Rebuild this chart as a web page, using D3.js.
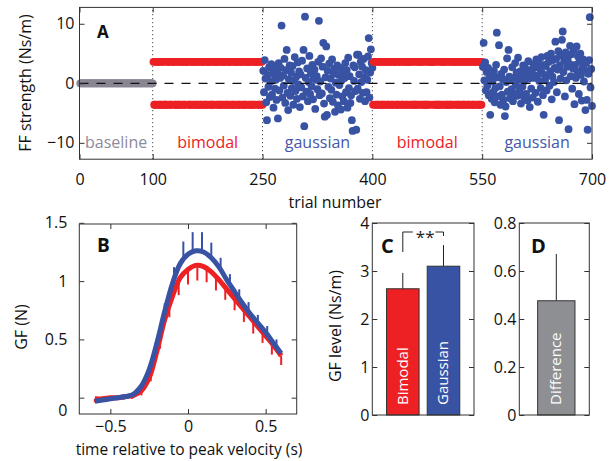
<!DOCTYPE html>
<html>
<head>
<meta charset="utf-8">
<script src="https://cdn.jsdelivr.net/npm/d3@7"></script>
<style>
  body { margin: 0; background: #fff; }
  text { font-family: "Open Sans", sans-serif; }
</style>
</head>
<body>
<svg id="fig" width="613" height="461"></svg>
<script>
// ---- panel A data ----
const phases = ["baseline", "bimodal", "gaussian", "bimodal", "gaussian"];
const phaseStarts = [0, 100, 250, 400, 550];
const phaseEnds = [100, 250, 400, 550, 700];
const trialTicks = [0, 100, 250, 400, 550, 700];
const ffTicks = [-10, 0, 10];
const baselineFF = 0;
const bimodalFF = 3.6;
const bimodalSigns1 = "+--+-++-+- -++-+---+- ++--+-+++- -+-+--+-++ -+--+++-+- -+-+-++--+ -+-+--++-+ --+-++-+-+ --+-+++--+ -+--++-+-+ --+-++-+-- +-+-++--+- ++-+--+-++ -+-+--+-+- ++-+--+-+-";
const bimodalSigns2 = "-++-+--+-+ +--+-+-++- -+-++--+-+ +-+--+-++- --++-+-+-+ +-+-+--+-- ++-+-++-+- -+--+-+-++ +-++-+--+- -+-+-++-+- +--+-+--++ -++-+-+--+ +-+--+-++- -+-++-+--+ +-+-+--+-+";
const gaussianFF1 = [
  2.1, -1.5, 3.9, 0.8, -3.2, -6.2, 1.4, -0.6, 2.7, -2.3,
  0.3, 3.2, -1.9, 1.6, -4.1, 2.4, -0.9, 0.6, -2.8, 1.9,
  -5.9, 3.4, -1.2, 0.9, 2.6, 9.7, -2.4, 1.3, -0.4, 4.1,
  -3.3, 2.2, 5.6, -1.6, -4.5, 0.7, 3.0, -2.1, 1.8, -0.8,
  2.9, -3.6, 0.4, 4.4, -1.3, 1.1, -2.6, 3.5, -0.2, 2.0,
  -4.0, 1.5, -0.7, 3.8, -2.2, 5.6, -7.2, 11.2, 0.9, -1.4,
  2.5, -3.0, 0.2, 4.6, -1.8, 1.7, -0.5, 3.1, -2.7, 0.8,
  2.3, -4.3, 0.6, 1.2, -1.0, 3.6, 10.5, -2.0, 0.3, 4.2,
  -1.7, 2.8, 6.8, -3.4, -5.6, 1.0, 6.2, -5.3, 2.1, -0.6,
  3.3, -2.5, 0.8, -1.1, 4.0, -3.1, 1.6, 2.4, -4.8, 0.1,
  -1.9, 3.0, -3.7, 1.4, -0.3, 2.6, -4.4, 0.5, -2.2, 1.9,
  -3.0, 0.9, 3.4, -1.5, 2.2, -4.1, 4.3, -0.8, 1.2, -3.3,
  -2.0, -6.2, -8.0, 3.0, 0.4, 2.7, -1.3, -7.8, 4.8, -0.9,
  4.8, 1.5, -2.6, 3.6, 0.2, 2.8, -1.6, 4.1, 1.0, -3.0,
  2.2, -1.5, 0.6, 4.5, 7.6, -2.4, 1.8, 5.7, 3.4, 2.6
];
const gaussianFF2 = [
  2.8, 6.8, 0.5, 3.5, -1.2, 1.9, -0.4, 2.6, -2.0, 0.9,
  -5.3, 1.4, -2.6, 0.3, -1.5, 2.1, -3.2, -0.8, 3.1, 8.5,
  1.0, -2.2, 6.4, -0.5, -3.6, 1.6, -1.9, 0.7, -2.8, 2.3,
  -5.5, -3.9, 0.2, 4.2, -1.4, 5.6, 1.1, -2.5, 0.5, -1.0,
  2.7, -3.0, 0.9, -1.7, 3.4, -0.3, 1.8, -2.1, 4.3, 0.6,
  -1.3, 2.0, -3.4, 1.2, -0.6, 3.0, -2.3, 0.4, 2.5, -1.8,
  1.5, -2.9, 3.7, 0.8, -4.0, 2.2, -0.9, 1.9, -2.4, 3.2,
  0.9, 2.7, -1.6, 4.0, 1.3, -3.1, 3.5, 0.4, 2.4, -0.8,
  4.4, 1.7, -2.0, -5.3, 3.1, 0.6, 2.9, -1.2, 4.6, 1.4,
  3.6, -0.4, 2.0, 5.0, -2.7, 1.1, 3.9, 0.2, 2.6, 7.0,
  4.1, -1.5, 2.3, 5.4, -6.2, 3.0, 0.8, 4.7, 7.3, 8.7,
  1.9, 3.8, -2.2, 5.2, 0.5, 2.8, 4.3, -7.7, 3.3, 6.3,
  1.2, 4.9, -0.9, 2.5, 5.6, -3.5, 3.1, 0.9, 6.2, 2.0,
  4.5, -1.8, 3.7, 5.0, 1.4, -2.9, 2.6, 4.0, 0.3, 2.2,
  -4.5, 3.4, -2.8, -7.8, 1.6, 3.9, 11.1, -0.7, 2.4, -3.8
];

// ---- panel B data ----
const timeB = [-0.6, -0.55, -0.5, -0.45, -0.4, -0.35, -0.3, -0.25, -0.2, -0.15, -0.1, -0.05,
  0, 0.05, 0.1, 0.15, 0.2, 0.25, 0.3, 0.35, 0.4, 0.45, 0.5, 0.55, 0.6];
const gfGaussian = [-0.03, -0.02, -0.01, 0.0, 0.01, 0.03, 0.10, 0.24, 0.47, 0.74, 0.98, 1.15,
  1.23, 1.26, 1.25, 1.20, 1.12, 1.01, 0.91, 0.81, 0.72, 0.64, 0.56, 0.47, 0.38];
const gfBimodal = [-0.01, -0.01, 0.0, 0.0, 0.01, 0.02, 0.06, 0.17, 0.40, 0.67, 0.87, 1.03,
  1.10, 1.135, 1.125, 1.08, 1.01, 0.93, 0.85, 0.77, 0.69, 0.61, 0.53, 0.45, 0.36];
const gaussBarTime = [-0.57, -0.51, -0.45, -0.39, -0.33, -0.27, -0.21, -0.15, -0.09, -0.03,
  0.03, 0.09, 0.15, 0.21, 0.27, 0.33, 0.39, 0.45, 0.51, 0.57];
const gaussBarMean = [-0.025, -0.015, 0.0, 0.012, 0.05, 0.17, 0.42, 0.74, 1.02, 1.19,
  1.25, 1.25, 1.20, 1.10, 0.97, 0.85, 0.74, 0.64, 0.545, 0.44];
const gaussBarErr = [0.02, 0.02, 0.02, 0.02, 0.03, 0.04, 0.05, 0.07, 0.10, 0.15,
  0.17, 0.17, 0.13, 0.10, 0.09, 0.08, 0.08, 0.07, 0.07, 0.06];
const bimBarTime = [-0.6, -0.54, -0.48, -0.42, -0.36, -0.3, -0.24, -0.18, -0.12, -0.06, 0,
  0.06, 0.12, 0.18, 0.24, 0.3, 0.36, 0.42, 0.48, 0.54, 0.6];
const bimBarMean = [-0.01, -0.01, 0.0, 0.005, 0.02, 0.06, 0.20, 0.50, 0.79, 1.00, 1.10,
  1.135, 1.11, 1.04, 0.95, 0.85, 0.75, 0.65, 0.56, 0.46, 0.36];
const bimBarErr = [0.03, 0.02, 0.02, 0.02, 0.03, 0.04, 0.06, 0.08, 0.10, 0.12, 0.13,
  0.13, 0.12, 0.12, 0.11, 0.10, 0.10, 0.10, 0.09, 0.09, 0.08];
const timeTicks = [-0.5, 0, 0.5];
const gfTicks = [0, 0.5, 1, 1.5];

// ---- panel C / D data ----
const conditions = ["Bimodal", "Gaussian"];
const gfLevel = [2.63, 3.10];
const gfLevelErr = [0.33, 0.44];
const levelTicks = [0, 1, 2, 3, 4];
const diffName = ["Difference"];
const diffLevel = [0.476];
const diffErr = [0.195];
const diffTicks = [0, 0.2, 0.4, 0.6, 0.8];

const RED = "#ed2024", BLUE = "#3953a4", GREY = "#8d8f92", BASEGREY = "#8b8593";

const svg = d3.select("#fig");
svg.append("rect").attr("width", 613).attr("height", 461).attr("fill", "#fff");

const fmt = d3.format("~g");

// draws box with inward ticks on all four sides, labels on left and bottom
function frame(x, y, xt, yt, opt) {
  const [x0, x1] = x.range(), [y0, y1] = y.range();
  const g = svg.append("g");
  if (xt) {
    g.append("g").attr("transform", `translate(0,${y0})`)
      .call(d3.axisBottom(x).tickValues(xt).tickSizeInner(-5).tickSizeOuter(0)
        .tickPadding(opt.xpad).tickFormat(fmt));
    g.append("g").attr("transform", `translate(0,${y1})`)
      .call(d3.axisTop(x).tickValues(xt).tickSizeInner(-5).tickSizeOuter(0).tickFormat(""));
  }
  const yAxis = g.append("g").attr("transform", `translate(${x0},0)`)
    .call(d3.axisLeft(y).tickValues(yt).tickSizeInner(-5).tickSizeOuter(0)
      .tickPadding(opt.ypad).tickFormat(fmt));
  g.append("g").attr("transform", `translate(${x1},0)`)
    .call(d3.axisRight(y).tickValues(yt).tickSizeInner(-5).tickSizeOuter(0).tickFormat(""));
  g.selectAll(".domain").remove();
  g.selectAll(".tick line").attr("stroke", "#333");
  g.selectAll(".tick text").attr("font-size", 16).attr("fill", "#111")
    .style("font-family", "'Open Sans', sans-serif");
  g.append("rect").attr("x", x0).attr("y", y1).attr("width", x1 - x0).attr("height", y0 - y1)
    .attr("fill", "none").attr("stroke", "#333").attr("stroke-width", 1);
  return yAxis;
}

function panelLetter(t, x, y, size) {
  svg.append("text").attr("x", x).attr("y", y).attr("font-size", size)
    .attr("font-weight", "bold").attr("fill", "#111").text(t);
}

// ================= Panel A =================
const xA = d3.scaleLinear().domain([0, 700]).range([79.5, 592]);
const yA = d3.scaleLinear().domain([-12.75, 12.75]).range([159.2, 7.4]);

const gA = svg.append("g");
gA.selectAll("line.phase").data(phaseStarts.slice(1)).enter().append("line")
  .attr("x1", d => xA(d)).attr("x2", d => xA(d))
  .attr("y1", yA.range()[0]).attr("y2", yA.range()[1])
  .attr("stroke", "#222").attr("stroke-width", 1).attr("stroke-dasharray", "1,3");

const pts = [];
d3.range(phaseStarts[0] + 1, phaseEnds[0] + 1).forEach(t => pts.push({ t, v: baselineFF, c: BASEGREY }));
bimodalSigns1.replace(/ /g, "").split("").forEach((s, i) =>
  pts.push({ t: phaseStarts[1] + 1 + i, v: (s === "+" ? 1 : -1) * bimodalFF, c: RED }));
gaussianFF1.forEach((v, i) => pts.push({ t: phaseStarts[2] + 1 + i, v, c: BLUE }));
bimodalSigns2.replace(/ /g, "").split("").forEach((s, i) =>
  pts.push({ t: phaseStarts[3] + 1 + i, v: (s === "+" ? 1 : -1) * bimodalFF, c: RED }));
gaussianFF2.forEach((v, i) => pts.push({ t: phaseStarts[4] + 1 + i, v, c: BLUE }));

gA.selectAll("circle").data(pts).enter().append("circle")
  .attr("cx", d => xA(d.t)).attr("cy", d => yA(d.v)).attr("r", 3.9)
  .attr("fill", d => d.c);

gA.append("line")
  .attr("x1", xA(0)).attr("x2", xA(700)).attr("y1", yA(0)).attr("y2", yA(0))
  .attr("stroke", "#111").attr("stroke-width", 1.2).attr("stroke-dasharray", "9,8");

const phaseColor = { baseline: "#8e8a9a", bimodal: RED, gaussian: "#4358a8" };
gA.selectAll("text.phase").data(phases).enter().append("text")
  .attr("x", (d, i) => xA((phaseStarts[i] + phaseEnds[i]) / 2))
  .attr("y", 148).attr("text-anchor", "middle").attr("font-size", 16)
  .attr("fill", d => phaseColor[d]).text(d => d);

frame(xA, yA, trialTicks, ffTicks, { xpad: 14, ypad: 5 });
panelLetter("A", 97, 38, 17);
svg.append("text").attr("x", 335).attr("y", 208).attr("text-anchor", "middle")
  .attr("font-size", 16).attr("fill", "#111").text("trial number");
svg.append("text").attr("transform", "translate(31,83) rotate(-90)").attr("text-anchor", "middle")
  .attr("font-size", 16).attr("fill", "#111").text("FF strength (Ns/m)");

// ================= Panel B =================
const xB = d3.scaleLinear().domain([-0.7, 0.7]).range([79.3, 296.7]);
const yB = d3.scaleLinear().domain([-0.14, 1.49]).range([414, 224]);
const gB = svg.append("g");
const lineB = vals => d3.line().x((d, i) => xB(timeB[i])).y(d => yB(d)).curve(d3.curveCatmullRom)(vals);

gB.selectAll("line.bim").data(bimBarTime).enter().append("line")
  .attr("x1", d => xB(d)).attr("x2", d => xB(d))
  .attr("y1", (d, i) => yB(bimBarMean[i])).attr("y2", (d, i) => yB(bimBarMean[i] - bimBarErr[i]))
  .attr("stroke", RED).attr("stroke-width", 2);
gB.append("path").attr("d", lineB(gfBimodal)).attr("fill", "none")
  .attr("stroke", RED).attr("stroke-width", 5);
gB.selectAll("line.gau").data(gaussBarTime).enter().append("line")
  .attr("x1", d => xB(d)).attr("x2", d => xB(d))
  .attr("y1", (d, i) => yB(gaussBarMean[i])).attr("y2", (d, i) => yB(gaussBarMean[i] + gaussBarErr[i]))
  .attr("stroke", BLUE).attr("stroke-width", 2);
gB.append("path").attr("d", lineB(gfGaussian)).attr("fill", "none")
  .attr("stroke", BLUE).attr("stroke-width", 5);

const yAxisB = frame(xB, yB, timeTicks, gfTicks, { xpad: 7, ypad: 12 });
// the zero label sits a little below its tick in the original
yAxisB.selectAll(".tick text").filter(d => d === 0).attr("dy", "1.1em");
panelLetter("B", 97, 252, 19);
svg.append("text").attr("x", 189).attr("y", 455).attr("text-anchor", "middle")
  .attr("font-size", 15.5).attr("fill", "#111").text("time relative to peak velocity (s)");
svg.append("text").attr("transform", "translate(27,327) rotate(-90)").attr("text-anchor", "middle")
  .attr("font-size", 16).attr("fill", "#111").text("GF (N)");

// ================= Panel C =================
const xC = d3.scaleLinear().domain([0.25, 2.75]).range([372.3, 474]);
const yC = d3.scaleLinear().domain([0, 4]).range([415, 223]);
const gC = svg.append("g");
const bw = 0.8;
gC.selectAll("line.err").data(conditions).enter().append("line")
  .attr("x1", (d, i) => xC(i + 1)).attr("x2", (d, i) => xC(i + 1))
  .attr("y1", (d, i) => yC(gfLevel[i])).attr("y2", (d, i) => yC(gfLevel[i] + gfLevelErr[i]))
  .attr("stroke", "#222").attr("stroke-width", 1);
gC.selectAll("rect").data(conditions).enter().append("rect")
  .attr("x", (d, i) => xC(i + 1 - bw / 2)).attr("width", xC(bw) - xC(0))
  .attr("y", (d, i) => yC(gfLevel[i])).attr("height", (d, i) => yC(0) - yC(gfLevel[i]))
  .attr("fill", (d, i) => [RED, BLUE][i]).attr("stroke", "#333").attr("stroke-width", 1);
gC.selectAll("text.bar").data(conditions).enter().append("text")
  .attr("transform", (d, i) => `translate(${xC(i + 1) + 5},405) rotate(-90)`)
  .attr("font-size", 15).attr("fill", "#fff").text(d => d);
// significance bracket
const bx0 = xC(1), bx1 = xC(2), byTop = 232;
gC.append("path")
  .attr("d", `M${bx0},252V${byTop}H${bx0 + 10}M${bx1 - 8},${byTop}H${bx1}V236`)
  .attr("fill", "none").attr("stroke", "#222").attr("stroke-width", 1);
gC.append("text").attr("x", (bx0 + bx1) / 2 + 2).attr("y", 243).attr("text-anchor", "middle")
  .attr("font-size", 17).attr("fill", "#222").text("**");
frame(xC, yC, null, levelTicks, { ypad: 3 });
panelLetter("C", 381, 253, 20);
svg.append("text").attr("transform", "translate(341,326) rotate(-90)").attr("text-anchor", "middle")
  .attr("font-size", 16).attr("fill", "#111").text("GF level (Ns/m)");

// ================= Panel D =================
const xD = d3.scaleLinear().domain([0.25, 1.75]).range([519.3, 589.3]);
const yD = d3.scaleLinear().domain([0, 0.8]).range([415, 223]);
const gD = svg.append("g");
gD.selectAll("line.err").data(diffName).enter().append("line")
  .attr("x1", xD(1) + 2).attr("x2", xD(1) + 2)
  .attr("y1", (d, i) => yD(diffLevel[i])).attr("y2", (d, i) => yD(diffLevel[i] + diffErr[i]))
  .attr("stroke", "#222").attr("stroke-width", 1);
gD.selectAll("rect").data(diffName).enter().append("rect")
  .attr("x", xD(1 - bw / 2) + 2).attr("width", xD(bw) - xD(0))
  .attr("y", (d, i) => yD(diffLevel[i])).attr("height", (d, i) => yD(0) - yD(diffLevel[i]))
  .attr("fill", GREY).attr("stroke", "#333").attr("stroke-width", 1);
gD.selectAll("text.bar").data(diffName).enter().append("text")
  .attr("transform", `translate(${xD(1) + 7},405) rotate(-90)`)
  .attr("font-size", 15).attr("fill", "#fff").text(d => d);
frame(xD, yD, null, diffTicks, { ypad: 3 });
panelLetter("D", 531, 253, 20);
</script>
</body>
</html>
